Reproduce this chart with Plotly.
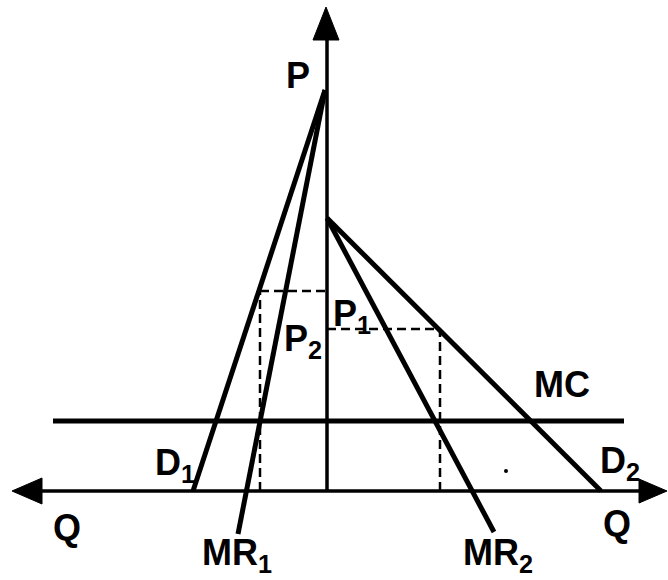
import plotly.graph_objects as go

# Diagram data (origin = intersection of P and Q axes; Q rightward/leftward, P upward)
d1_q = [-2, -134]
d1_p = [401, 0]
mr1_q = [-2, -89]
mr1_p = [401, -43]
d2_q = [0, 274]
d2_p = [273, 0]
mr2_q = [0, 167]
mr2_p = [273, -41]
mc_q = [-274, 297]
mc_p = [70, 70]
p2_q = [-67, 0]
p2_level = 200
p1_q = [0, 113]
p1_level = 162
p_axis_top = 484
q_axis_left = -315
q_axis_right = 340

labels = ["P", "P<sub>1</sub>", "P<sub>2</sub>", "MC", "D<sub>1</sub>", "D<sub>2</sub>",
          "Q", "Q", "MR<sub>1</sub>", "MR<sub>2</sub>"]
label_q = [-29, 25, -24, 235, -152, 293, -260, 290, -90, 171]
label_p = [416, 175, 150, 107, 26, 28, -36, -32, -64, -64]

fig = go.Figure()

def line(xs, ys, w=5, dash=None):
    fig.add_trace(go.Scatter(x=xs, y=ys, mode="lines",
                             line=dict(color="black", width=w, dash=dash),
                             hoverinfo="skip", showlegend=False))

def tri(xs, ys):
    fig.add_trace(go.Scatter(x=xs + [xs[0]], y=ys + [ys[0]], mode="lines", fill="toself",
                             fillcolor="black", line=dict(color="black", width=1),
                             hoverinfo="skip", showlegend=False))

# axes
line([0, 0], [0, p_axis_top - 20], w=3.5)
line([q_axis_left + 20, q_axis_right - 20], [0, 0], w=3.5)
tri([-1, -14, 12], [p_axis_top, p_axis_top - 33, p_axis_top - 33])
tri([q_axis_left, q_axis_left + 30, q_axis_left + 30], [0, 13, -13])
tri([q_axis_right, q_axis_right - 28, q_axis_right - 28], [0, 12, -12])

# curves
line(d1_q, d1_p)
line(mr1_q, mr1_p)
line(d2_q, d2_p)
line(mr2_q, mr2_p)
line(mc_q, mc_p)

# dashed guides
line(p2_q, [p2_level, p2_level], w=2.5, dash="9px,5px")
line([p2_q[0], p2_q[0]], [0, p2_level], w=2.5, dash="9px,5px")
line(p1_q, [p1_level, p1_level], w=2.5, dash="9px,5px")
line([p1_q[1], p1_q[1]], [0, p1_level], w=2.5, dash="9px,5px")

# stray dot
fig.add_trace(go.Scatter(x=[179], y=[20], mode="markers",
                         marker=dict(color="black", size=4),
                         hoverinfo="skip", showlegend=False))

for t, x, y in zip(labels, label_q, label_p):
    fig.add_annotation(x=x, y=y, text="<b>" + t + "</b>", showarrow=False,
                       xanchor="center", yanchor="middle",
                       font=dict(family="Liberation Sans, Arial, sans-serif", size=36, color="black"))

fig.update_layout(
    width=668, height=580, autosize=False,
    margin=dict(l=0, r=0, t=0, b=0),
    paper_bgcolor="white", plot_bgcolor="white",
    xaxis=dict(range=[-327, 341], visible=False, fixedrange=True),
    yaxis=dict(range=[-89, 491], visible=False, fixedrange=True),
)

fig.write_html("out.html", config={"displayModeBar": False},
               post_script="document.body.style.margin='0';document.body.style.overflow='hidden';")
